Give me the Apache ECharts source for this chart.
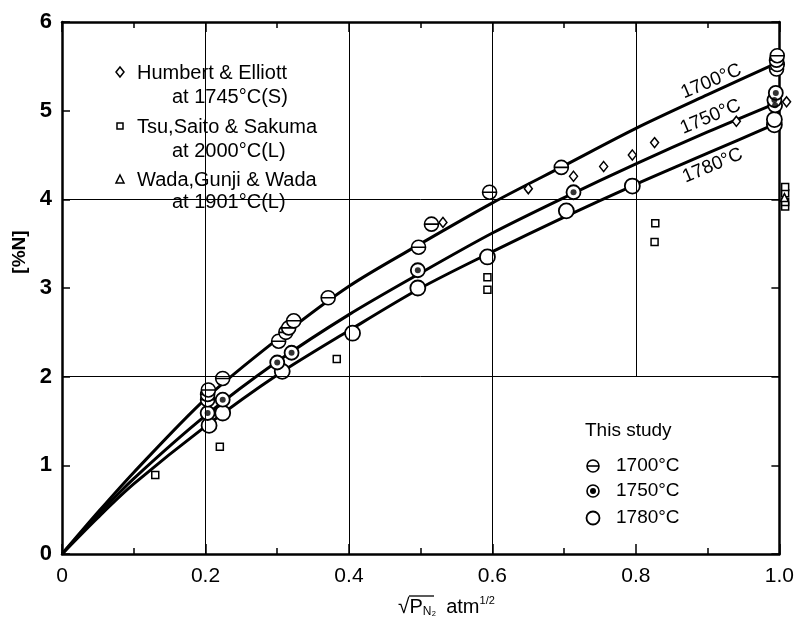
<!DOCTYPE html>
<html>
<head>
<meta charset="utf-8">
<script src="https://cdn.jsdelivr.net/npm/echarts@6/dist/echarts.min.js"></script>
<style>
  html, body { margin: 0; padding: 0; background: #fff; }
  #main { width: 797px; height: 623px; }
</style>
</head>
<body>
<div id="main"></div>
<script>
// fitted curves
var curveX = [0, 0.05, 0.1, 0.2, 0.3, 0.4, 0.5, 0.6, 0.7, 0.8, 0.9, 1.0];
var curve1700 = [0, 0.47, 0.92, 1.75, 2.42, 3.02, 3.5, 3.96, 4.38, 4.8, 5.18, 5.55];
var curve1750 = [0, 0.44, 0.85, 1.56, 2.17, 2.7, 3.17, 3.62, 4.02, 4.4, 4.76, 5.1];
var curve1780 = [0, 0.41, 0.79, 1.44, 2.02, 2.52, 3.0, 3.41, 3.8, 4.17, 4.52, 4.87];

// this study
var pts1700 = [[0.203, 1.74], [0.203, 1.80], [0.204, 1.85], [0.224, 1.98], [0.302, 2.40], [0.312, 2.50],
  [0.316, 2.55], [0.323, 2.63], [0.371, 2.89], [0.497, 3.46], [0.515, 3.72], [0.596, 4.08], [0.696, 4.36],
  [0.996, 5.47], [0.997, 5.52], [0.996, 5.57], [0.997, 5.62]];
var pts1750 = [[0.203, 1.59], [0.224, 1.74], [0.30, 2.16], [0.32, 2.27], [0.496, 3.20], [0.713, 4.08],
  [0.994, 5.06], [0.993, 5.12], [0.995, 5.20]];
var pts1780 = [[0.205, 1.45], [0.224, 1.59], [0.307, 2.06], [0.405, 2.49], [0.496, 3.0], [0.593, 3.35],
  [0.703, 3.87], [0.795, 4.15], [0.993, 4.84], [0.993, 4.90]];

// other authors
var humbert = [[0.531, 3.74], [0.65, 4.12], [0.713, 4.26], [0.755, 4.37], [0.795, 4.50], [0.826, 4.64],
  [0.94, 4.88], [1.01, 5.10]];
var tsu = [[0.13, 0.89], [0.22, 1.21], [0.383, 2.2], [0.593, 2.98], [0.593, 3.12], [0.826, 3.52], [0.827, 3.73],
  [1.008, 3.92], [1.008, 3.97], [1.008, 4.07], [1.008, 4.14]];
var wada = [[1.007, 4.02]];

var xTicks = ['0', '0.2', '0.4', '0.6', '0.8', '1.0'];
var vGrid = [0.2, 0.4, 0.6];
var hGrid = [2, 4];

var FONT = 'Liberation Sans';
var barCircle = 'path://M0,-10A10,10 0 1,1 0,10A10,10 0 1,1 0,-10Z M-10,0L10,0';

function curve(ys) {
  return curveX.map(function (x, i) { return [x, ys[i]]; });
}
function lineSeries(ys, extra) {
  var s = {
    type: 'line', data: curve(ys), smooth: 0.3, showSymbol: false, silent: true, z: 2,
    lineStyle: { color: '#000', width: 3 }
  };
  return Object.assign(s, extra || {});
}
function openSym(data, symbol, size, bw) {
  return {
    type: 'scatter', data: data, symbol: symbol, symbolSize: size, clip: false, silent: true, z: 3,
    itemStyle: { color: '#fff', borderColor: '#000', borderWidth: bw, opacity: 1 }
  };
}

// grid lines; the 0.8 line stops at the 2 % line as in the figure
var gridLines = vGrid.map(function (v) { return { xAxis: v }; })
  .concat(hGrid.map(function (v) { return { yAxis: v }; }));
gridLines.push([{ coord: [0.8, 6] }, { coord: [0.8, 2] }]);

var axisCommon = {
  type: 'value',
  axisLine: { show: true, onZero: false, lineStyle: { color: '#000', width: 2.5 } },
  axisTick: { show: true, inside: true, length: 10, lineStyle: { color: '#000', width: 1.5 } },
  splitLine: { show: false }
};

var chart = echarts.init(document.getElementById('main'));
chart.setOption({
  animation: false,
  backgroundColor: '#fff',
  grid: { left: 62, right: 17, top: 22, bottom: 69 },
  xAxis: [
    Object.assign({}, axisCommon, {
      min: 0, max: 1, interval: 0.2, position: 'bottom',
      minorTick: { show: true, splitNumber: 2, length: 6, lineStyle: { color: '#000', width: 1.5 } },
      axisLabel: {
        margin: 12, color: '#000', fontSize: 21, fontFamily: FONT,
        formatter: function (v) { return xTicks[Math.round(v / 0.2)]; }
      }
    }),
    Object.assign({}, axisCommon, {
      min: 0, max: 1, interval: 0.2, position: 'top',
      minorTick: { show: true, splitNumber: 2, length: 6, lineStyle: { color: '#000', width: 1.5 } },
      axisLabel: { show: false }
    })
  ],
  yAxis: [
    Object.assign({}, axisCommon, {
      min: 0, max: 6, interval: 1, position: 'left',
      axisTick: { show: true, inside: true, length: 8, lineStyle: { color: '#000', width: 1.5 } },
      axisLabel: { margin: 10, color: '#000', fontSize: 22, fontWeight: 'bold', fontFamily: FONT }
    }),
    Object.assign({}, axisCommon, {
      min: 0, max: 6, interval: 1, position: 'right',
      axisTick: { show: true, inside: true, length: 8, lineStyle: { color: '#000', width: 1.5 } },
      axisLabel: { show: false }
    })
  ],
  series: [
    lineSeries(curve1700, {
      markLine: {
        silent: true, symbol: 'none', label: { show: false },
        lineStyle: { color: '#000', width: 1, type: 'solid' },
        data: gridLines
      }
    }),
    lineSeries(curve1750),
    lineSeries(curve1780),
    openSym(humbert, 'diamond', [8, 10], 1.5),
    openSym(tsu, 'rect', 7, 1.5),
    openSym(wada, 'triangle', 8, 1.5),
    openSym(pts1780, 'circle', 15, 1.8),
    openSym(pts1750, 'circle', 14, 1.8),
    { type: 'scatter', data: pts1750, symbol: 'circle', symbolSize: 6, clip: false, silent: true, z: 4,
      itemStyle: { color: '#000' } },
    openSym(pts1700, barCircle, 14, 1.6)
  ]
});

// curve labels placed along the lines
function curveLabel(text, x, y) {
  var p = chart.convertToPixel({ gridIndex: 0 }, [x, y]);
  return {
    type: 'text', x: p[0], y: p[1], rotation: 0.4, z: 10,
    style: { text: text, font: '19px ' + FONT, fill: '#000', align: 'center', verticalAlign: 'middle' }
  };
}
function txt(text, x, y, size, extra) {
  return {
    type: 'text', x: x, y: y, z: 10,
    style: Object.assign({ text: text, font: size + 'px ' + FONT, fill: '#000', verticalAlign: 'middle' }, extra || {})
  };
}

var els = [
  curveLabel('1700°C', 0.905, 5.33),
  curveLabel('1750°C', 0.904, 4.93),
  curveLabel('1780°C', 0.907, 4.38),
  // literature legend
  { type: 'polygon', shape: { points: [[120, 67], [124, 72], [120, 77], [116, 72]] },
    style: { fill: '#fff', stroke: '#000', lineWidth: 1.5 }, z: 10 },
  txt('Humbert & Elliott', 137, 73, 20),
  txt('at 1745°C(S)', 172, 97, 20),
  { type: 'rect', shape: { x: 117, y: 123, width: 6, height: 6 },
    style: { fill: '#fff', stroke: '#000', lineWidth: 1.5 }, z: 10 },
  txt('Tsu,Saito & Sakuma', 137, 127, 20),
  txt('at 2000°C(L)', 172, 151, 20),
  { type: 'polygon', shape: { points: [[120, 175], [124, 183], [116, 183]] },
    style: { fill: '#fff', stroke: '#000', lineWidth: 1.5 }, z: 10 },
  txt('Wada,Gunji & Wada', 137, 180, 20),
  txt('at 1901°C(L)', 172, 202, 20),
  // this study legend
  txt('This study', 585, 431, 19),
  { type: 'circle', shape: { cx: 593, cy: 466, r: 6 }, style: { fill: '#fff', stroke: '#000', lineWidth: 1.6 }, z: 10 },
  { type: 'line', shape: { x1: 587, y1: 466, x2: 599, y2: 466 }, style: { stroke: '#000', lineWidth: 1.6 }, z: 10 },
  txt('1700°C', 616, 466, 19),
  { type: 'circle', shape: { cx: 593, cy: 491, r: 6 }, style: { fill: '#fff', stroke: '#000', lineWidth: 1.6 }, z: 10 },
  { type: 'circle', shape: { cx: 593, cy: 491, r: 3 }, style: { fill: '#000' }, z: 10 },
  txt('1750°C', 616, 491, 19),
  { type: 'circle', shape: { cx: 593, cy: 518, r: 6.5 }, style: { fill: '#fff', stroke: '#000', lineWidth: 1.8 }, z: 10 },
  txt('1780°C', 616, 518, 19),
  // axis names
  { type: 'text', x: 20, y: 252, rotation: Math.PI / 2, z: 10,
    style: { text: '[%N]', font: 'bold 19px ' + FONT, fill: '#000', align: 'center', verticalAlign: 'middle' } },
  { type: 'text', x: 398, y: 607, z: 10,
    style: {
      text: '{r|√}{p|P}{s|N₂}   {a|atm}{u|1/2}',
      verticalAlign: 'middle',
      rich: {
        r: { font: '21px ' + FONT, fill: '#000' },
        p: { font: '20px ' + FONT, fill: '#000' },
        s: { font: '12px ' + FONT, fill: '#000', padding: [10, 0, 0, 0] },
        a: { font: '20px ' + FONT, fill: '#000' },
        u: { font: '11px ' + FONT, fill: '#000', padding: [0, 0, 12, 0] }
      }
    } },
  { type: 'line', shape: { x1: 409, y1: 596, x2: 434, y2: 596 }, style: { stroke: '#000', lineWidth: 1.3 }, z: 10 }
];
chart.setOption({ graphic: els });
</script>
</body>
</html>
